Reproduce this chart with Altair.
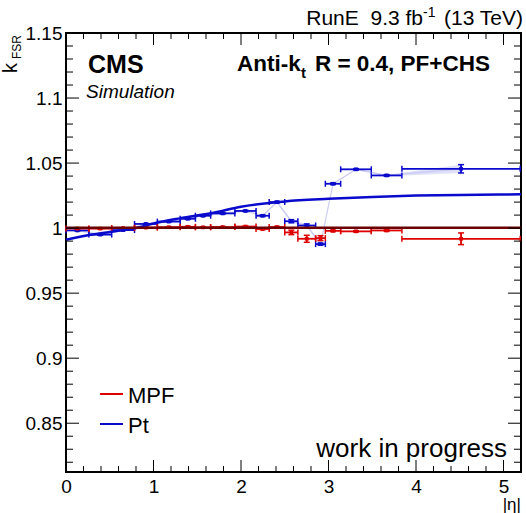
import altair as alt
import pandas as pd

# ---- data ----
eta_lo = [0.0, 0.261, 0.522, 0.783, 1.044, 1.305, 1.479, 1.653, 1.930, 2.172,
          2.322, 2.500, 2.650, 2.853, 2.964, 3.139, 3.489, 3.839]
eta_hi = [0.261, 0.522, 0.783, 1.044, 1.305, 1.479, 1.653, 1.930, 2.172, 2.322,
          2.500, 2.650, 2.853, 2.964, 3.139, 3.489, 3.839, 5.191]
pt_val = [0.9982, 0.9950, 0.9985, 1.0032, 1.0050, 1.0072, 1.0095, 1.0113, 1.0132, 1.0095,
          1.0200, 1.0053, 1.0020, 0.9877, 1.0341, 1.0452, 1.0405, 1.0456]
pt_err = [0.0004, 0.0004, 0.0004, 0.0004, 0.0004, 0.0005, 0.0005, 0.0005, 0.0005, 0.0006,
          0.0006, 0.0012, 0.0012, 0.0008, 0.0006, 0.0005, 0.0006, 0.0032]
mpf_val = [0.9997, 0.9996, 1.0000, 1.0004, 1.0007, 1.0010, 1.0006, 1.0008, 1.0012, 0.9993,
           1.0008, 0.9967, 0.9918, 0.9923, 0.9979, 0.9975, 0.9982, 0.9918]
mpf_err = [0.0003, 0.0003, 0.0003, 0.0003, 0.0003, 0.0004, 0.0004, 0.0004, 0.0004, 0.0005,
           0.0005, 0.0017, 0.0027, 0.0019, 0.0006, 0.0005, 0.0007, 0.0045]

fit_pt_eta = [0.0, 0.25, 0.5, 0.8, 1.0, 1.3, 1.7, 2.0, 2.5, 3.0, 3.5, 4.0, 4.5, 5.2]
fit_pt_val = [0.991, 0.9945, 0.997, 1.0, 1.0035, 1.0075, 1.012, 1.0165, 1.0205, 1.0225,
              1.024, 1.025, 1.0255, 1.026]
fit_mpf_eta = [0.0, 5.2]
fit_mpf_val = [1.0002, 1.0002]

x_major = [0, 1, 2, 3, 4, 5]
x_minor = [0.2, 0.4, 0.6, 0.8, 1.2, 1.4, 1.6, 1.8, 2.2, 2.4, 2.6, 2.8, 3.2, 3.4, 3.6, 3.8,
           4.2, 4.4, 4.6, 4.8, 5.2]
y_major = [0.85, 0.9, 0.95, 1.0, 1.05, 1.1, 1.15]
y_minor = [0.82, 0.83, 0.84, 0.86, 0.87, 0.88, 0.89, 0.91, 0.92, 0.93, 0.94, 0.96, 0.97,
           0.98, 0.99, 1.01, 1.02, 1.03, 1.04, 1.06, 1.07, 1.08, 1.09, 1.11, 1.12, 1.13, 1.14]

W, H = 455, 439
FONT = "Liberation Sans"
BLUE = "#0a0acc"
RED = "#dd0000"
DARKRED = "#6a0000"

xs = alt.Scale(domain=[0, 5.2], nice=False, zero=False)
ys = alt.Scale(domain=[0.8125, 1.15], nice=False, zero=False)

x_axis = alt.Axis(values=x_major, ticks=False, domain=False, grid=False, title=None,
                  labelFlush=False, labelOverlap=False,
                  labelFontSize=19, labelFont=FONT, labelColor="black", labelPadding=5)
y_axis = alt.Axis(values=y_major, format="~g", ticks=False, domain=False, grid=False, title=None,
                  labelFlush=False, labelOverlap=False,
                  labelFontSize=19, labelFont=FONT, labelColor="black", labelPadding=4)


def pts(vals, errs):
    return pd.DataFrame({
        "lo": eta_lo, "hi": eta_hi,
        "c": [(a + b) / 2 for a, b in zip(eta_lo, eta_hi)],
        "v": vals,
        "vlo": [v - e for v, e in zip(vals, errs)],
        "vhi": [v + e for v, e in zip(vals, errs)],
    })


df_pt = pts(pt_val, pt_err)
df_mpf = pts(mpf_val, mpf_err)

X = lambda f: alt.X(f, type="quantitative", scale=xs, axis=x_axis, title=None)
Y = lambda f: alt.Y(f, type="quantitative", scale=ys, axis=y_axis, title=None)


def series_layers(df, color, band):
    base = alt.Chart(df)
    out = []
    if band:
        out += [
            base.mark_area(color=band, opacity=0.55).encode(x=X("c"), y=Y("vlo"), y2="vhi"),
            base.mark_line(color=band, strokeWidth=1.2, opacity=0.8).encode(x=X("c"), y=Y("v")),
        ]
    out += [
        base.mark_rule(color=color, strokeWidth=1.8).encode(x=X("lo"), x2="hi", y=Y("v")),
        base.mark_rule(color=color, strokeWidth=1.5, yOffset=-3, y2Offset=3).encode(x=X("lo"), y=Y("v"), y2="v"),
        base.mark_rule(color=color, strokeWidth=1.5, yOffset=-3, y2Offset=3).encode(x=X("hi"), y=Y("v"), y2="v"),
        base.mark_rule(color=color, strokeWidth=1.8).encode(x=X("c"), y=Y("vlo"), y2="vhi"),
        base.mark_rule(color=color, strokeWidth=1.5, xOffset=-3, x2Offset=3).encode(x=X("c"), x2="c", y=Y("vlo")),
        base.mark_rule(color=color, strokeWidth=1.5, xOffset=-3, x2Offset=3).encode(x=X("c"), x2="c", y=Y("vhi")),
        base.mark_square(color=color, size=14, opacity=1).encode(x=X("c"), y=Y("v")),
    ]
    return out


tick_layers = []
for vals, ln in [(x_major, 12), (x_minor, 6)]:
    d = alt.Chart(pd.DataFrame({"p": vals}))
    tick_layers.append(d.mark_rule(color="black", strokeWidth=1).encode(x=X("p"), y=alt.value(H), y2=alt.value(H - ln)))
    tick_layers.append(d.mark_rule(color="black", strokeWidth=1).encode(x=X("p"), y=alt.value(0), y2=alt.value(ln)))
for vals, ln in [(y_major, 13), (y_minor, 7)]:
    d = alt.Chart(pd.DataFrame({"p": vals}))
    tick_layers.append(d.mark_rule(color="black", strokeWidth=1).encode(y=Y("p"), x=alt.value(0), x2=alt.value(ln)))
    tick_layers.append(d.mark_rule(color="black", strokeWidth=1).encode(y=Y("p"), x=alt.value(W), x2=alt.value(W - ln)))

fit_pt = alt.Chart(pd.DataFrame({"e": fit_pt_eta, "k": fit_pt_val})).mark_line(
    color=BLUE, strokeWidth=2.5, interpolate="monotone").encode(x=X("e"), y=Y("k"))
fit_mpf = alt.Chart(pd.DataFrame({"e": fit_mpf_eta, "k": fit_mpf_val})).mark_line(
    color=DARKRED, strokeWidth=2.5).encode(x=X("e"), y=Y("k"))

one = pd.DataFrame({"a": [0]})


def txt(text, x, y, size, align="left", weight="normal", style="normal", angle=0, color="black", font=FONT):
    kw = dict(text=text, align=align, baseline="alphabetic", fontSize=size, font=font,
              fontWeight=weight, fontStyle=style, color=color)
    if angle:
        kw["angle"] = angle
    return alt.Chart(one).mark_text(**kw).encode(x=alt.value(x), y=alt.value(y))


texts = [
    txt("RunE\u00a0\u00a09.3 fb", 357, -8, 21, align="right"),
    txt("-1", 357, -16, 14),
    txt("(13 TeV)", 457, -8, 21, align="right"),
    txt("CMS", 22, 40, 25, weight="bold"),
    txt("Simulation", 20, 65, 19, style="italic"),
    txt("Anti-k", 171, 38, 22.5, weight="bold"),
    txt("t", 235, 45, 15, weight="bold"),
    txt("R = 0.4, PF+CHS", 424, 38, 22.5, align="right", weight="bold"),
    txt("work in progress", 441, 424, 26, align="right"),
    txt("MPF", 62, 370, 22),
    txt("Pt", 62, 400, 22),
    txt("k", -49, 40, 20, angle=270),
    txt("FSR", -45, 26, 12, angle=270),
    txt("|η|", 455, 477, 17, align="right"),
]

legend_lines = [
    alt.Chart(one).mark_rule(color=RED, strokeWidth=2).encode(x=alt.value(34), x2=alt.value(57), y=alt.value(361)),
    alt.Chart(one).mark_rule(color=BLUE, strokeWidth=2).encode(x=alt.value(34), x2=alt.value(57), y=alt.value(391)),
]

layers = (series_layers(df_pt, BLUE, "#c4c4f4")
          + series_layers(df_mpf, RED, None)
          + [fit_pt, fit_mpf]
          + tick_layers + texts + legend_lines)

chart = alt.layer(*layers).properties(
    width=W, height=H,
    padding={"left": 66, "top": 33, "right": 5, "bottom": 41},
    autosize=alt.AutoSizeParams(type="none"),
    background="white",
).configure_view(stroke="black", strokeWidth=2)

chart.save("out.html", embed_options={"renderer": "svg", "actions": False})
